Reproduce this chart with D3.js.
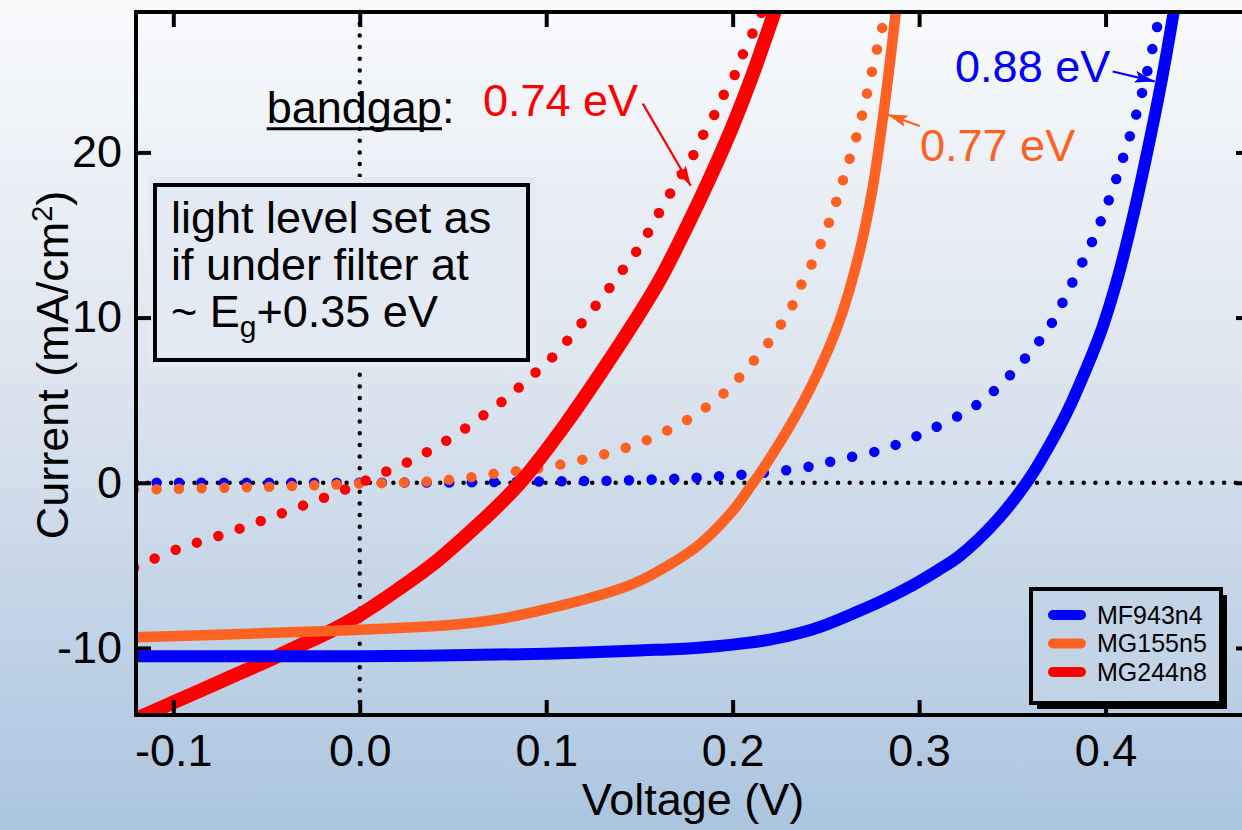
<!DOCTYPE html>
<html>
<head>
<meta charset="utf-8">
<script src="https://cdn.jsdelivr.net/npm/d3@7"></script>
<style>
  html, body { margin: 0; padding: 0; background: #fff; }
  svg { display: block; font-family: "Liberation Sans", Arial, Helvetica, sans-serif; }
</style>
</head>
<body>
<svg id="chart" width="1242" height="830"></svg>
<script>
// [voltage (V), current (mA/cm^2)]
const mf943Solid = [[-0.12,-10.5],[0.0,-10.5],[0.05,-10.45],[0.1,-10.35],[0.15,-10.15],[0.18,-10.0],[0.2,-9.8],[0.22,-9.5],[0.236,-9.1],[0.25,-8.6],[0.265,-7.9],[0.28,-7.15],[0.2965,-6.2],[0.31,-5.3],[0.322,-4.4],[0.3415,-2.3],[0.3576,0],[0.366,1.5],[0.379,4.2],[0.39,7.0],[0.398,9.3],[0.406,12.2],[0.4145,16.0],[0.4225,20.1],[0.43,24.3],[0.437,28.8]];
const mg155Solid = [[-0.12,-9.35],[-0.05,-9.1],[0.0,-8.9],[0.05,-8.6],[0.075,-8.25],[0.1,-7.65],[0.129,-6.8],[0.147,-6.1],[0.164,-5.1],[0.182,-3.75],[0.2,-1.7],[0.211,0],[0.216,0.8],[0.231,3.5],[0.245,6.5],[0.257,9.7],[0.267,13.5],[0.275,17.8],[0.282,23.3],[0.288,29.0]];
const mg244Solid = [[-0.12,-14.3],[-0.1,-13.3],[-0.07,-11.8],[-0.05,-10.8],[-0.034,-9.95],[-0.0155,-8.97],[0.0,-8.0],[0.009,-7.35],[0.02,-6.5],[0.039,-4.95],[0.055,-3.4],[0.075,-1.3],[0.086,0],[0.093,0.95],[0.111,3.65],[0.129,6.6],[0.147,9.7],[0.161,12.3],[0.175,15.4],[0.188,18.5],[0.2,21.6],[0.211,24.8],[0.2225,28.5],[0.225,29.3]];

const mf943Dotted = [[-0.121,0],[0.05,0.02],[0.1,0.08],[0.14,0.14],[0.18,0.3],[0.2,0.45],[0.22,0.65],[0.24,0.95],[0.257,1.4],[0.28,2.0],[0.304,3.1],[0.328,4.5],[0.3396,5.5],[0.3512,6.8],[0.361,8.1],[0.37,9.45],[0.3825,12.2],[0.3936,14.8],[0.403,17.5],[0.4106,20.1],[0.4177,22.8],[0.4236,25.5],[0.429,28.3],[0.4305,29.0]];
const mg155Dotted = [[-0.121,-0.42],[-0.07,-0.3],[-0.03,-0.18],[0.0,-0.05],[0.02,0.0],[0.04,0.1],[0.056,0.28],[0.068,0.48],[0.0795,0.65],[0.0915,0.8],[0.1033,1.0],[0.1153,1.3],[0.127,1.6],[0.139,2.0],[0.15,2.4],[0.162,3.0],[0.174,3.7],[0.186,4.6],[0.198,5.7],[0.208,6.97],[0.218,8.3],[0.226,9.6],[0.233,10.95],[0.238,12.3],[0.244,13.6],[0.2534,16.3],[0.261,19.0],[0.268,21.6],[0.2735,24.3],[0.279,27.0],[0.2835,29.0]];
const mg244Dotted = [[-0.121,-5.13],[-0.0974,-4.0],[-0.0738,-3.15],[-0.0504,-2.2],[-0.0268,-1.23],[-0.003,-0.18],[0.009,0.44],[0.0207,0.99],[0.0325,1.64],[0.0443,2.4],[0.0561,3.25],[0.068,4.22],[0.0795,5.2],[0.0915,6.4],[0.1033,7.6],[0.1135,8.9],[0.1233,10.27],[0.1326,11.6],[0.1416,12.97],[0.1498,14.24],[0.1569,15.6],[0.1635,16.95],[0.1707,18.3],[0.1778,19.6],[0.1837,20.96],[0.1903,22.3],[0.1957,23.6],[0.202,24.9],[0.2064,26.2],[0.2123,27.6],[0.216,28.6]];

const seriesNames = ['MF943n4', 'MG155n5', 'MG244n8'];
const seriesColors = ['#0000ff', '#ff6122', '#ff0000'];

const xTicks = [-0.1, 0.0, 0.1, 0.2, 0.3, 0.4];
const xTickLabels = ['-0.1', '0.0', '0.1', '0.2', '0.3', '0.4'];
const yTicks = [-10, 0, 10, 20];
const yTickLabels = ['-10', '0', '10', '20'];

// bandgap labels: [text, colour, x (V), baseline (mA/cm^2)]
const gapLabels = [['0.74 eV', '#ff0000', 0.0661, 22.2], ['0.77 eV', '#ff6122', 0.3005, 19.5], ['0.88 eV', '#0000ff', 0.3193, 24.24]];
// arrows: [colour, from V, from I, to V, to I]
const gapArrows = [['#ff0000', 0.1518, 22.95, 0.1775, 17.98], ['#ff6122', 0.3003, 21.6, 0.2831, 22.3], ['#0000ff', 0.4038, 24.9, 0.4263, 24.3]];

const svg = d3.select('#chart');
const W = 1242, H = 830;
const FONT = 45;

const x = d3.scaleLinear().domain([-0.12, 0.478]).range([136, 1251]);
const y = d3.scaleLinear().domain([-14.06, 28.5]).range([715, 12]);

const defs = svg.append('defs');
const bg = defs.append('linearGradient')
    .attr('id', 'bg')
    .attr('gradientUnits', 'userSpaceOnUse')
    .attr('x1', 0).attr('y1', 0).attr('x2', 0).attr('y2', H);
bg.append('stop').attr('offset', '0%').attr('stop-color', '#f9fafc');
bg.append('stop').attr('offset', '45%').attr('stop-color', '#dde5ef');
bg.append('stop').attr('offset', '100%').attr('stop-color', '#abc5df');

defs.append('clipPath').attr('id', 'plotClip')
    .append('rect')
    .attr('x', x.range()[0]).attr('y', y.range()[1])
    .attr('width', x.range()[1] - x.range()[0])
    .attr('height', y.range()[0] - y.range()[1]);

gapArrows.forEach((a, i) => {
    defs.append('marker')
        .attr('id', 'arrow' + i)
        .attr('markerUnits', 'userSpaceOnUse')
        .attr('markerWidth', 20).attr('markerHeight', 12)
        .attr('refX', 20).attr('refY', 6)
        .attr('orient', 'auto')
        .append('path')
        .attr('d', 'M0,0 L20,6 L0,12 L4,6 Z')
        .attr('fill', a[0]);
});

svg.append('rect').attr('width', W).attr('height', H).attr('fill', 'url(#bg)');

// zero lines
const zeros = svg.append('g');
zeros.append('line')
    .attr('x1', x.range()[0]).attr('x2', x.range()[1])
    .attr('y1', y(0)).attr('y2', y(0));
zeros.append('line')
    .attr('x1', x(0)).attr('x2', x(0))
    .attr('y1', y.range()[1]).attr('y2', y.range()[0]);
zeros.selectAll('line')
    .attr('stroke', '#000')
    .attr('stroke-width', 4.5)
    .attr('stroke-linecap', 'round')
    .attr('stroke-dasharray', '0 11.7');

// note box
svg.append('rect')
    .attr('x', 148).attr('y', 177).attr('width', 388).attr('height', 190)
    .attr('fill', '#e3eaf3');
svg.append('rect')
    .attr('x', 155).attr('y', 185).attr('width', 373).attr('height', 175)
    .attr('fill', '#e3eaf3')
    .attr('stroke', '#000')
    .attr('stroke-width', 4);
const note = svg.append('text')
    .attr('font-size', FONT)
    .attr('fill', '#000');
note.append('tspan').attr('x', 171).attr('y', 233).text('light level set as');
note.append('tspan').attr('x', 171).attr('y', 280).text('if under filter at');
note.append('tspan').attr('x', 171).attr('y', 327).text('~ E');
note.append('tspan').attr('dy', 10).attr('font-size', 30).text('g');
note.append('tspan').attr('dy', -10).text('+0.35 eV');

// curves
const line = d3.line()
    .x(d => x(d[0]))
    .y(d => y(d[1]))
    .curve(d3.curveCatmullRom.alpha(0.5));

const plot = svg.append('g').attr('clip-path', 'url(#plotClip)');

[mf943Dotted, mg155Dotted, mg244Dotted].forEach((data, i) => {
    plot.append('path')
        .datum(data)
        .attr('d', line)
        .attr('fill', 'none')
        .attr('stroke', seriesColors[i])
        .attr('stroke-width', 10.5)
        .attr('stroke-linecap', 'round')
        .attr('stroke-dasharray', '0 22.5');
});

const solidWidths = [12, 10.5, 14];
[mg244Solid, mg155Solid, mf943Solid].forEach((data, k) => {
    const i = 2 - k;
    plot.append('path')
        .datum(data)
        .attr('d', line)
        .attr('fill', 'none')
        .attr('stroke', seriesColors[i])
        .attr('stroke-width', solidWidths[i])
        .attr('stroke-linejoin', 'round')
        .attr('stroke-linecap', 'round');
});

// axes
const TICK = 15;
function styleAxis(g) {
    g.select('.domain').remove();
    g.selectAll('.tick line').attr('stroke', '#000').attr('stroke-width', 4);
    g.selectAll('.tick text')
        .attr('fill', '#000')
        .attr('font-size', FONT)
        .attr('font-family', '"Liberation Sans", Arial, Helvetica, sans-serif');
}

svg.append('g')
    .attr('transform', `translate(0,${y.range()[0]})`)
    .call(d3.axisBottom(x).tickValues(xTicks).tickSize(-TICK).tickPadding(19)
        .tickFormat((d, i) => xTickLabels[i]))
    .call(styleAxis);

svg.append('g')
    .attr('transform', `translate(0,${y.range()[1]})`)
    .call(d3.axisTop(x).tickValues(xTicks).tickSize(-TICK).tickFormat(''))
    .call(styleAxis);

svg.append('g')
    .attr('transform', `translate(${x.range()[0]},0)`)
    .call(d3.axisLeft(y).tickValues(yTicks).tickSize(-TICK).tickPadding(14)
        .tickFormat((d, i) => yTickLabels[i]))
    .call(styleAxis);

svg.append('g')
    .attr('transform', `translate(${x.range()[1]},0)`)
    .call(d3.axisRight(y).tickValues(yTicks).tickSize(-TICK).tickFormat(''))
    .call(styleAxis);

svg.append('rect')
    .attr('x', x.range()[0]).attr('y', y.range()[1])
    .attr('width', x.range()[1] - x.range()[0])
    .attr('height', y.range()[0] - y.range()[1])
    .attr('fill', 'none')
    .attr('stroke', '#000')
    .attr('stroke-width', 4);

// axis titles
svg.append('text')
    .attr('x', 693).attr('y', 815)
    .attr('text-anchor', 'middle')
    .attr('font-size', FONT)
    .text('Voltage (V)');

const yTitle = svg.append('text')
    .attr('transform', 'translate(68,365) rotate(-90)')
    .attr('text-anchor', 'middle')
    .attr('font-size', FONT);
yTitle.append('tspan').text('Current (mA/cm');
yTitle.append('tspan').attr('dy', -16).attr('font-size', 29).text('2');
yTitle.append('tspan').attr('dy', 16).text(')');

// bandgap annotation
const bandgap = svg.append('text')
    .attr('x', x(-0.0499)).attr('y', y(21.77))
    .attr('font-size', FONT);
const bgWord = bandgap.append('tspan').text('bandgap');
bandgap.append('tspan').text(':');
const bgLen = bgWord.node().getComputedTextLength();
svg.append('line')
    .attr('x1', x(-0.0499)).attr('x2', x(-0.0499) + bgLen)
    .attr('y1', y(21.77) + 5.5).attr('y2', y(21.77) + 5.5)
    .attr('stroke', '#000').attr('stroke-width', 3);

svg.selectAll('.gap-label')
    .data(gapLabels)
    .join('text')
    .attr('class', 'gap-label')
    .attr('x', d => x(d[2]))
    .attr('y', d => y(d[3]))
    .attr('font-size', FONT)
    .attr('fill', d => d[1])
    .text(d => d[0]);

svg.selectAll('.gap-arrow')
    .data(gapArrows)
    .join('line')
    .attr('class', 'gap-arrow')
    .attr('x1', d => x(d[1])).attr('y1', d => y(d[2]))
    .attr('x2', d => x(d[3])).attr('y2', d => y(d[4]))
    .attr('stroke', d => d[0])
    .attr('stroke-width', 2.2)
    .attr('marker-end', (d, i) => `url(#arrow${i})`);

// legend with Igor-style drop shadow
const lg = svg.append('g').attr('transform', 'translate(1031,589)');
lg.append('rect')
    .attr('x', 6).attr('y', 6).attr('width', 190).attr('height', 114)
    .attr('fill', '#000');
lg.append('rect')
    .attr('width', 190).attr('height', 114)
    .attr('fill', '#c2d4e6')
    .attr('stroke', '#000')
    .attr('stroke-width', 4);

seriesNames.forEach((name, i) => {
    const row = lg.append('g').attr('transform', `translate(0,${26 + i * 28.5})`);
    row.append('line')
        .attr('x1', 22).attr('x2', 50)
        .attr('stroke', seriesColors[i])
        .attr('stroke-width', 10)
        .attr('stroke-linecap', 'round');
    row.append('text')
        .attr('x', 66)
        .attr('dy', '0.35em')
        .attr('font-size', 25)
        .text(name);
});
</script>
</body>
</html>
